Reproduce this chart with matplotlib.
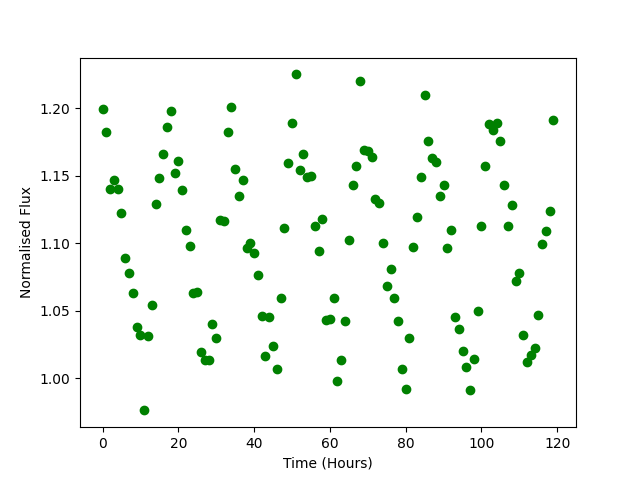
import numpy as np
import matplotlib
matplotlib.use('Agg')
import matplotlib.pyplot as plt

# hourly samples
hours = np.arange(0, 120)

flux = [1.199, 1.182, 1.140, 1.147, 1.140, 1.122, 1.089, 1.078, 1.063, 1.038,
        1.032, 0.976, 1.031, 1.054, 1.129, 1.148, 1.166, 1.186, 1.198, 1.152,
        1.161, 1.139, 1.110, 1.098, 1.063, 1.064, 1.019, 1.013, 1.013, 1.040,
        1.030, 1.117, 1.116, 1.182, 1.201, 1.155, 1.135, 1.147, 1.096, 1.100,
        1.093, 1.076, 1.046, 1.016, 1.045, 1.024, 1.007, 1.059, 1.111, 1.159,
        1.189, 1.225, 1.154, 1.166, 1.149, 1.150, 1.113, 1.094, 1.118, 1.043,
        1.044, 1.059, 0.998, 1.013, 1.042, 1.102, 1.143, 1.157, 1.220, 1.169,
        1.168, 1.164, 1.133, 1.130, 1.100, 1.068, 1.081, 1.059, 1.042, 1.007,
        0.992, 1.030, 1.097, 1.119, 1.149, 1.210, 1.176, 1.163, 1.160, 1.135,
        1.143, 1.096, 1.110, 1.045, 1.036, 1.020, 1.008, 0.991, 1.014, 1.050,
        1.113, 1.157, 1.188, 1.184, 1.189, 1.176, 1.143, 1.113, 1.128, 1.072,
        1.078, 1.032, 1.012, 1.017, 1.022, 1.047, 1.099, 1.109, 1.124, 1.191]

fig, ax = plt.subplots(figsize=(6.4, 4.8), dpi=100)
ax.plot(hours, flux, 'o', color='green')
ax.set_xlabel('Time (Hours)')
ax.set_ylabel('Normalised Flux')

fig.savefig('out.png')
